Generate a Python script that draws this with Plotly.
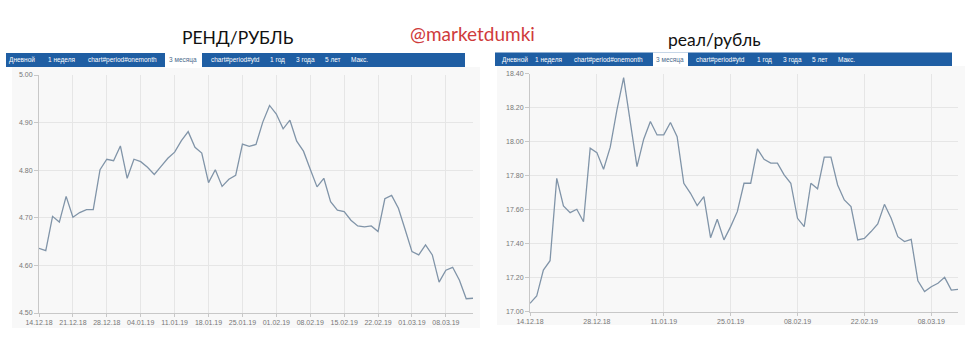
import plotly.graph_objects as go
import pandas as pd

W, H = 978, 352

# ---- data ----
dates = [d.strftime("%d.%m.%y") for d in pd.bdate_range("2018-12-14", periods=65)]

zar_rub = [4.636, 4.631, 4.703, 4.691, 4.745, 4.701, 4.711, 4.717, 4.717, 4.801,
           4.823, 4.820, 4.851, 4.783, 4.823, 4.818, 4.806, 4.791, 4.808, 4.825,
           4.838, 4.862, 4.881, 4.848, 4.836, 4.774, 4.801, 4.766, 4.781, 4.789,
           4.855, 4.850, 4.854, 4.901, 4.936, 4.918, 4.887, 4.905, 4.861, 4.840,
           4.802, 4.765, 4.783, 4.734, 4.716, 4.713, 4.695, 4.683, 4.681, 4.683,
           4.671, 4.740, 4.747, 4.720, 4.675, 4.629, 4.622, 4.643, 4.622, 4.565,
           4.590, 4.596, 4.569, 4.530, 4.531]

brl_rub = [17.049, 17.092, 17.245, 17.300, 17.784, 17.622, 17.582, 17.602, 17.529, 17.961,
           17.935, 17.837, 17.967, 18.186, 18.376, 18.127, 17.853, 18.014, 18.118, 18.039,
           18.039, 18.112, 18.029, 17.755, 17.696, 17.624, 17.676, 17.435, 17.543, 17.422,
           17.500, 17.588, 17.755, 17.755, 17.957, 17.896, 17.873, 17.873, 17.804, 17.755,
           17.549, 17.500, 17.755, 17.722, 17.908, 17.908, 17.745, 17.657, 17.618, 17.422,
           17.431, 17.471, 17.516, 17.631, 17.549, 17.441, 17.412, 17.425, 17.182, 17.118,
           17.147, 17.167, 17.202, 17.127, 17.131]

left_xticks = ["14.12.18", "21.12.18", "28.12.18", "04.01.19", "11.01.19", "18.01.19", "25.01.19",
               "01.02.19", "08.02.19", "15.02.19", "22.02.19", "01.03.19", "08.03.19"]
right_xticks = ["14.12.18", "28.12.18", "11.01.19", "25.01.19", "08.02.19", "22.02.19", "08.03.19"]
left_yticks = [4.50, 4.60, 4.70, 4.80, 4.90, 5.00]
right_yticks = [17.00, 17.20, 17.40, 17.60, 17.80, 18.00, 18.20, 18.40]

tabs = ["Дневной", "1 неделя", "chart#period#onemonth", "3 месяца", "chart#period#ytd",
        "1 год", "3 года", "5 лет", "Макс."]
left_tab_x = [22, 61, 122, 183, 235, 277, 305, 333, 359]
right_tab_x = [515, 548, 608, 670, 720, 764, 792, 820, 846]

# ---- helpers ----
def px(x):
    return x / W

def py(y):
    return 1 - y / H

LINE = "#8094a8"
GRID = "#e6e6e6"
TICKF = dict(family="Liberation Sans, Arial", size=7, color="#777777")
BLUE = "#1f5ea3"

fig = go.Figure()
fig.add_trace(go.Scatter(x=dates, y=zar_rub, mode="lines", line=dict(color=LINE, width=1.3),
                         xaxis="x", yaxis="y", hoverinfo="x+y"))
fig.add_trace(go.Scatter(x=dates, y=brl_rub, mode="lines", line=dict(color=LINE, width=1.3),
                         xaxis="x2", yaxis="y2", hoverinfo="x+y"))

common_x = dict(type="category", showgrid=True, gridcolor=GRID, gridwidth=1,
                showline=True, linecolor="#c8c8c8", ticks="outside", ticklen=3,
                tickcolor="#c8c8c8", tickfont=TICKF, zeroline=False, fixedrange=True,
                automargin=False)
common_y = dict(showgrid=True, gridcolor=GRID, gridwidth=1, showline=True,
                linecolor="#c8c8c8", ticks="outside", ticklen=4, tickcolor="#c8c8c8",
                tickfont=TICKF, zeroline=False, tickformat=".2f", fixedrange=True,
                automargin=False)

fig.update_layout(
    width=W, height=H, margin=dict(l=0, r=0, t=0, b=0, pad=0, autoexpand=False),
    paper_bgcolor="white", plot_bgcolor="rgba(0,0,0,0)", showlegend=False,
    xaxis=dict(common_x, domain=[px(39), px(473)], range=[0, 64],
               tickvals=left_xticks, ticktext=left_xticks, anchor="y"),
    yaxis=dict(common_y, domain=[py(313), py(75)], range=[4.5, 5.0],
               tickvals=left_yticks, anchor="x"),
    xaxis2=dict(common_x, domain=[px(530), px(958)], range=[0, 64],
                tickvals=right_xticks, ticktext=right_xticks, anchor="y2"),
    yaxis2=dict(common_y, domain=[py(311.7), py(73.5)], range=[17.0, 18.4],
                tickvals=right_yticks, anchor="x2"),
)

shapes = []
# panel backgrounds
shapes.append(dict(type="rect", xref="paper", yref="paper", x0=px(12), x1=px(480),
                   y0=py(328), y1=py(67), fillcolor="#f8f8f8", line=dict(width=0), layer="below"))
shapes.append(dict(type="rect", xref="paper", yref="paper", x0=px(497), x1=px(965),
                   y0=py(325), y1=py(66), fillcolor="#f8f8f8", line=dict(width=0), layer="below"))
# tab bars
shapes.append(dict(type="rect", xref="paper", yref="paper", x0=px(6), x1=px(465),
                   y0=py(67), y1=py(53), fillcolor=BLUE, line=dict(width=0)))
shapes.append(dict(type="rect", xref="paper", yref="paper", x0=px(165), x1=px(202),
                   y0=py(68), y1=py(53), fillcolor="white", line=dict(width=0)))
shapes.append(dict(type="rect", xref="paper", yref="paper", x0=px(495), x1=px(952),
                   y0=py(66), y1=py(52.5), fillcolor=BLUE, line=dict(width=0)))
shapes.append(dict(type="rect", xref="paper", yref="paper", x0=px(653), x1=px(688),
                   y0=py(67), y1=py(52.5), fillcolor="white", line=dict(width=0)))
fig.update_layout(shapes=shapes)

ann = []
def add_text(x, y, text, font):
    ann.append(dict(x=px(x), y=py(y), xref="paper", yref="paper", text=text, showarrow=False,
                    xanchor="center", yanchor="middle", font=font))

for t, x in zip(tabs, left_tab_x):
    add_text(x, 60, t, dict(family="Liberation Sans, Arial", size=6.5,
                            color="#4a6a8a" if t == "3 месяца" else "white"))
for t, x in zip(tabs, right_tab_x):
    add_text(x, 59.5, t, dict(family="Liberation Sans, Arial", size=6.5,
                              color="#4a6a8a" if t == "3 месяца" else "white"))
add_text(238, 37, "РЕНД/РУБЛЬ", dict(family="Lato, Noto Sans, sans-serif", size=17.5, color="#111111"))
add_text(472, 33, "@marketdumki", dict(family="Lato, Noto Sans, sans-serif", size=19, color="#cf3b3b"))
add_text(714, 39, "реал/рубль", dict(family="Lato, Noto Sans, sans-serif", size=17.5, color="#111111"))
fig.update_layout(annotations=ann)

fig.write_html("out.html")
